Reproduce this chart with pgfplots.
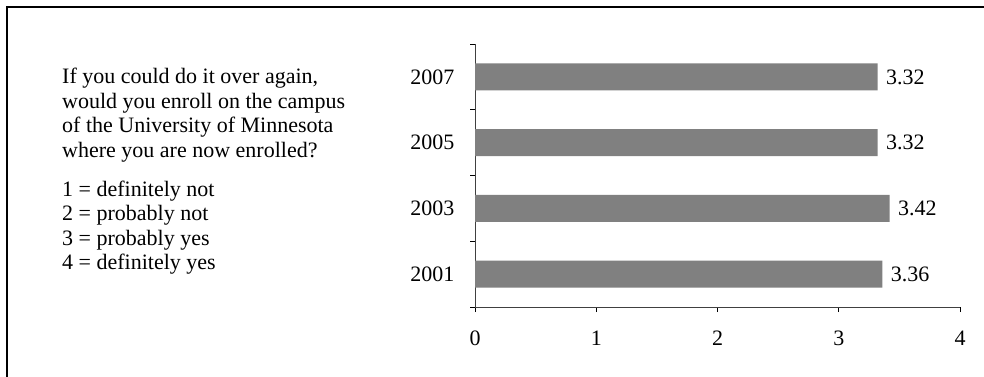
\documentclass[border=0pt]{standalone}
\usepackage{fontspec}
\setmainfont{Liberation Serif}
\usepackage{pgfplots}
\pgfplotsset{compat=1.18}
\definecolor{bargray}{HTML}{808080}
\newcommand{\chartfont}{\fontsize{22bp}{25bp}\selectfont}
\begin{document}
\begin{tikzpicture}
\chartfont
\path[use as bounding box] (0,0) rectangle (984bp,377bp);
\draw[line width=1.8bp] (7bp,0) -- (7bp,370bp) -- (984bp,370bp);
\begin{axis}[
  at={(475bp,70bp)}, anchor=south west,
  scale only axis, width=485bp, height=263bp,
  xbar, bar width=27bp,
  xmin=0, xmax=4, ymin=0.5, ymax=4.5,
  axis lines*=left,
  axis line style={black!75, line width=0.9bp},
  xtick={0,1,2,3,4},
  ytick={0.5,1.5,2.5,3.5,4.5},
  y tick label as interval,
  yticklabels={2001,2003,2005,2007,{}},
  major tick length=5bp,
  tick style={black, line width=0.8bp},
  tick align=outside,
  yticklabel style={xshift=-8bp},
  xticklabel style={yshift=-11bp},
  tick label style={font=\chartfont},
  /pgf/number format/assume math mode=true,
  nodes near coords,
  nodes near coords style={font=\chartfont, anchor=west, xshift=1bp, /pgf/number format/fixed, /pgf/number format/precision=2, /pgf/number format/fixed zerofill},
  clip=false,
]
\addplot[fill=bargray, draw=none] coordinates {(3.36,1) (3.42,2) (3.32,3) (3.32,4)};
\end{axis}
\begin{scope}[every node/.style={anchor=base west, inner sep=0pt}]
\node at (62bp,293bp) {If you could do it over again,};
\node at (62bp,268.5bp) {would you enroll on the campus};
\node at (62bp,244bp) {of the University of Minnesota};
\node at (62bp,219.5bp) {where you are now enrolled?};
\node at (62bp,180.5bp) {1 = definitely not};
\node at (62bp,156bp) {2 = probably not};
\node at (62bp,131.5bp) {3 = probably yes};
\node at (62bp,107bp) {4 = definitely yes};
\end{scope}
\end{tikzpicture}
\end{document}
